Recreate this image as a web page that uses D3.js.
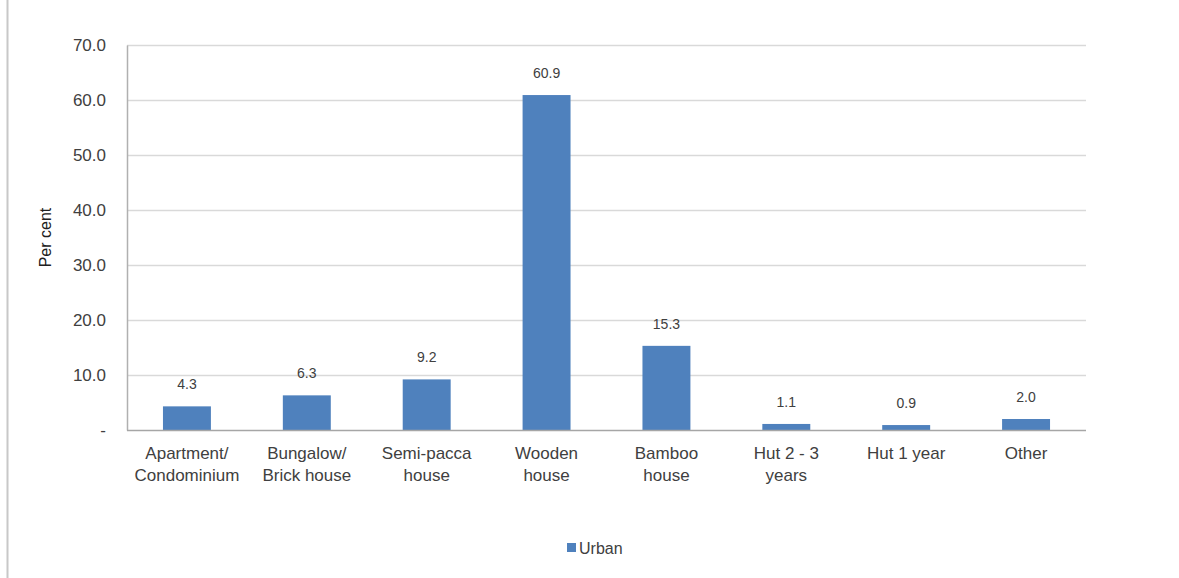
<!DOCTYPE html>
<html>
<head>
<meta charset="utf-8">
<script src="https://cdn.jsdelivr.net/npm/d3@7"></script>
<style>
  body { margin: 0; background: #fff; }
  svg { display: block; font-family: "Liberation Sans", Arial, sans-serif; }
</style>
</head>
<body>
<div id="chart"></div>
<script>
// chart data
var categories = [
    ["Apartment/", "Condominium"],
    ["Bungalow/", "Brick house"],
    ["Semi-pacca", "house"],
    ["Wooden", "house"],
    ["Bamboo", "house"],
    ["Hut 2 - 3", "years"],
    ["Hut 1 year"],
    ["Other"]
];
var urban = [4.3, 6.3, 9.2, 60.9, 15.3, 1.1, 0.9, 2.0];
var yTicks = [0, 10, 20, 30, 40, 50, 60, 70];
var seriesName = "Urban";

var width = 1179, height = 578;
var margin = {top: 45, right: 93, bottom: 148, left: 127};
var innerW = width - margin.left - margin.right;
var innerH = height - margin.top - margin.bottom;
var barColor = "#4f81bd";

var svg = d3.select("#chart")
    .append("svg")
    .attr("width", width)
    .attr("height", height);

// thin frame line on the left edge
svg.append("line")
    .attr("x1", 7.5).attr("x2", 7.5)
    .attr("y1", 0).attr("y2", height)
    .attr("stroke", "#c8c8c8")
    .attr("stroke-width", 2);

var g = svg.append("g")
    .attr("transform", "translate(" + margin.left + "," + margin.top + ")");

var x = d3.scaleBand()
    .domain(d3.range(categories.length))
    .range([0, innerW])
    .paddingInner(0.6)
    .paddingOuter(0.3);

var y = d3.scaleLinear()
    .domain([0, 70])
    .range([innerH, 0]);

// gridlines
g.selectAll(".grid")
    .data(yTicks.slice(1))
    .enter()
    .append("line")
    .attr("class", "grid")
    .attr("x1", 0).attr("x2", innerW)
    .attr("y1", function(d) { return Math.round(y(d)) + 0.5; })
    .attr("y2", function(d) { return Math.round(y(d)) + 0.5; })
    .attr("stroke", "#d9d9d9")
    .attr("stroke-width", 1.5);

// y axis
var yAxis = g.append("g")
    .call(d3.axisLeft(y)
        .tickValues(yTicks)
        .tickSize(0)
        .tickPadding(21)
        .tickFormat(function(d) { return d === 0 ? "-" : d3.format(".1f")(d); }));
yAxis.select(".domain").attr("stroke", "#b0b0b0").attr("stroke-width", 1.5);
yAxis.selectAll("text")
    .attr("fill", "#404040")
    .attr("font-size", "17px")
    .attr("font-family", "Liberation Sans, Arial, sans-serif");

// bars
g.selectAll(".bar")
    .data(urban)
    .enter()
    .append("rect")
    .attr("class", "bar")
    .attr("x", function(d, i) { return x(i); })
    .attr("y", function(d) { return y(d); })
    .attr("width", x.bandwidth())
    .attr("height", function(d) { return innerH - y(d); })
    .attr("fill", barColor);

// value labels
g.selectAll(".val")
    .data(urban)
    .enter()
    .append("text")
    .attr("class", "val")
    .attr("x", function(d, i) { return x(i) + x.bandwidth() / 2; })
    .attr("y", function(d) { return y(d) - 17; })
    .attr("text-anchor", "middle")
    .attr("font-size", "14px")
    .attr("fill", "#404040")
    .text(function(d) { return d.toFixed(1); });

// x axis line
g.append("line")
    .attr("x1", 0).attr("x2", innerW)
    .attr("y1", innerH + 0.5).attr("y2", innerH + 0.5)
    .attr("stroke", "#a6a6a6")
    .attr("stroke-width", 1.5);

// category labels
var cat = g.selectAll(".cat")
    .data(categories)
    .enter()
    .append("text")
    .attr("class", "cat")
    .attr("text-anchor", "middle")
    .attr("font-size", "17px")
    .attr("fill", "#404040")
    .attr("transform", function(d, i) {
        return "translate(" + (x(i) + x.bandwidth() / 2) + "," + (innerH + 29) + ")";
    });
cat.selectAll("tspan")
    .data(function(d) { return d; })
    .enter()
    .append("tspan")
    .attr("x", 0)
    .attr("dy", function(d, i) { return i === 0 ? 0 : 22; })
    .text(function(d) { return d; });

// y axis title
svg.append("text")
    .attr("transform", "translate(51," + (margin.top + innerH / 2) + ") rotate(-90)")
    .attr("text-anchor", "middle")
    .attr("font-size", "16px")
    .attr("fill", "#202020")
    .text("Per cent");

// legend
var legend = svg.append("g")
    .attr("transform", "translate(567,548)");
legend.append("rect")
    .attr("x", 0).attr("y", -5)
    .attr("width", 9).attr("height", 9)
    .attr("fill", barColor);
legend.append("text")
    .attr("x", 12).attr("y", 6)
    .attr("font-size", "16px")
    .attr("fill", "#404040")
    .text(seriesName);
</script>
</body>
</html>
